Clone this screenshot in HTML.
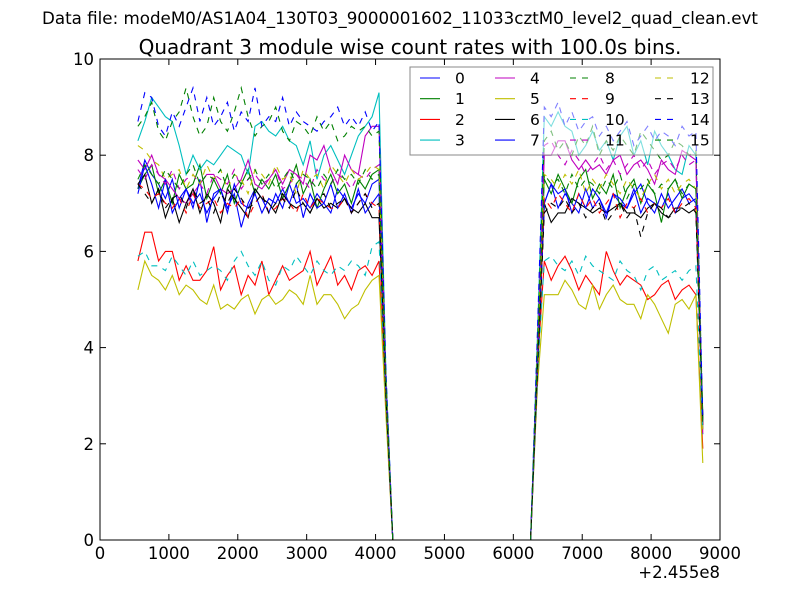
<!DOCTYPE html>
<html><head><meta charset="utf-8"><style>
body{margin:0;background:#fff;}
svg{display:block;font-family:"DejaVu Sans","Liberation Sans",sans-serif;}
</style></head><body>
<svg id="chart" width="800" height="600" viewBox="0 0 800 600" xmlns="http://www.w3.org/2000/svg">
<rect x="0" y="0" width="800" height="600" fill="#fff"/>
<text x="400" y="24" text-anchor="middle" font-size="16.7">Data file: modeM0/AS1A04_130T03_9000001602_11033cztM0_level2_quad_clean.evt</text>
<text x="410" y="54" text-anchor="middle" font-size="20">Quadrant 3 module wise count rates with 100.0s bins.</text>
<g id="series"></g>
<g id="axes"></g>
<g id="legend"></g>
</svg>
<script>
const times = [550,650,750,850,950,1050,1150,1250,1350,1450,1550,1650,1750,1850,1950,2050,2150,2250,2350,2450,2550,2650,2750,2850,2950,3050,3150,3250,3350,3450,3550,3650,3750,3850,3950,4050,4150,4250,6250,6350,6450,6550,6650,6750,6850,6950,7050,7150,7250,7350,7450,7550,7650,7750,7850,7950,8050,8150,8250,8350,8450,8550,8650,8750];
const s0 = [7.3,7.9,7.6,7.4,7.1,7.5,6.9,7.3,7.0,7.2,6.8,7.1,7.3,6.9,7.2,6.5,7.0,7.3,7.1,6.8,7.2,6.9,7.4,7.0,7.1,6.9,7.2,7.0,6.8,7.3,7.1,6.9,7.2,7.0,7.4,7.5,3.0,0,0,3.5,7.0,7.4,6.9,7.2,7.0,6.8,7.3,6.9,7.1,6.7,7.2,7.0,6.9,7.3,6.8,7.1,7.0,6.9,7.2,6.8,7.1,7.2,7.0,2.3];
const s1 = [7.3,7.6,7.8,7.2,7.5,7.0,7.6,7.3,7.4,7.8,7.1,7.5,7.2,7.6,7.0,7.4,7.7,7.2,7.5,7.3,7.6,7.1,7.4,7.8,7.2,7.5,6.9,7.3,7.6,7.2,7.4,7.0,7.5,7.3,7.6,7.7,3.2,0,0,3.8,7.5,7.2,7.6,7.3,7.0,7.5,7.7,7.1,7.4,7.2,7.6,6.9,7.3,7.5,7.0,7.4,7.2,6.6,7.3,7.5,7.1,7.4,7.3,2.5];
const s2 = [5.8,6.4,6.4,5.8,6.0,6.0,5.4,5.7,5.4,5.4,5.6,6.1,5.2,5.5,5.7,5.1,5.5,5.3,5.8,5.1,5.4,5.7,5.4,5.5,5.6,6.0,5.3,5.6,5.9,5.3,5.5,5.2,5.6,5.7,5.5,5.8,2.8,0,0,3.6,5.8,5.4,5.7,5.9,5.6,5.2,5.5,5.3,5.1,6.0,5.6,5.3,5.5,5.4,5.3,5.0,5.1,5.3,5.4,5.0,5.2,5.3,5.1,1.9];
const s3 = [8.3,8.7,9.2,9.0,8.8,8.7,8.2,7.6,8.0,7.7,7.9,7.8,8.0,8.2,8.1,8.0,7.6,8.6,8.7,8.5,8.4,8.6,8.3,8.2,7.8,8.3,7.5,8.0,8.2,7.9,7.6,8.0,8.4,8.6,8.8,9.3,3.5,0,0,4.2,8.8,8.6,8.9,8.6,8.5,8.0,8.2,8.5,8.1,8.3,7.9,8.4,8.6,8.0,8.3,7.8,8.5,8.2,8.0,7.7,7.6,8.2,8.0,2.4];
const s4 = [7.9,7.7,8.0,7.6,7.5,7.3,7.1,7.0,7.2,7.4,7.6,7.6,7.3,7.2,7.3,7.5,7.9,7.4,7.3,7.5,7.7,7.4,7.7,7.6,7.4,8.0,7.9,8.2,7.7,7.4,8.0,7.7,7.6,8.4,8.6,8.6,3.3,0,0,3.9,8.0,8.0,8.3,8.3,7.9,7.7,7.9,7.7,7.8,7.6,7.9,8.0,7.6,7.8,7.9,7.7,7.4,7.9,7.7,7.6,8.1,8.0,7.9,2.2];
const s5 = [5.2,5.8,5.5,5.4,5.2,5.5,5.1,5.3,5.2,5.0,4.9,5.3,4.8,4.9,4.8,5.0,5.1,4.7,5.0,5.1,4.9,5.0,5.2,5.1,4.9,5.5,4.9,5.1,5.1,4.9,4.6,4.8,4.9,5.2,5.4,5.5,2.6,0,0,3.2,5.1,5.1,5.1,5.4,5.2,4.9,4.8,5.3,4.8,5.1,5.3,5.0,4.9,4.9,4.6,5.1,4.9,4.6,4.3,4.9,5.0,4.8,5.1,1.6];
const s6 = [7.4,7.6,7.0,7.3,6.7,7.1,6.6,7.0,7.3,6.8,7.2,7.0,6.6,7.3,7.1,6.9,6.7,7.3,7.1,7.0,6.8,7.2,7.0,6.9,7.0,6.8,7.1,6.9,7.0,6.9,7.1,6.9,6.8,7.0,6.7,6.7,3.0,0,0,3.4,7.0,6.6,6.8,6.8,7.1,7.0,6.9,6.8,6.9,6.8,6.9,7.0,6.8,6.8,6.7,6.9,7.0,6.8,6.7,6.9,6.9,6.8,6.9,2.6];
const s7 = [7.2,7.8,7.4,6.9,7.5,6.8,7.1,7.3,6.9,7.5,6.6,7.2,7.3,6.8,7.4,7.0,6.9,7.2,6.8,7.1,7.0,7.3,7.0,7.4,6.7,7.2,6.9,7.0,7.4,6.9,7.2,6.8,7.3,6.8,7.0,7.2,3.1,0,0,3.6,7.0,7.4,7.2,7.3,6.8,7.2,6.9,7.3,7.1,6.8,7.2,7.1,6.9,7.2,7.4,7.0,6.8,7.2,6.9,7.1,7.3,7.0,7.1,2.4];
const s8 = [8.6,8.8,9.1,8.5,8.3,8.7,8.9,9.4,8.8,8.4,8.6,9.2,8.7,8.5,8.9,9.4,8.8,8.4,8.6,8.7,9.0,8.5,8.3,8.7,8.6,8.4,8.8,8.5,8.7,8.3,8.4,8.6,8.5,8.6,8.4,8.5,3.4,0,0,4.0,8.3,8.5,8.1,8.3,8.0,8.4,8.2,8.6,8.0,8.3,8.1,8.4,8.2,8.0,8.5,8.3,8.1,7.9,8.0,8.3,8.2,8.0,8.1,2.5];
const s9 = [7.4,7.3,7.1,7.2,7.0,6.9,7.1,6.8,7.2,6.9,7.0,7.1,6.8,7.0,6.9,7.1,6.7,7.0,7.2,6.8,6.9,7.1,7.0,6.8,7.2,6.9,7.1,7.0,6.9,6.9,7.1,6.8,7.0,7.2,7.0,6.9,3.0,0,0,3.5,7.1,6.9,7.2,7.0,6.8,7.2,6.9,7.1,6.8,7.0,7.2,6.7,7.0,6.9,7.1,6.8,7.0,6.9,7.1,6.8,7.0,7.1,6.9,2.4];
const s10 = [5.9,6.0,5.7,5.7,5.6,5.9,5.7,5.5,5.8,5.5,5.6,5.7,5.6,5.4,5.8,6.0,5.7,5.5,5.8,5.4,5.3,5.7,5.6,5.9,5.7,5.5,5.8,5.6,5.5,5.7,5.6,5.8,5.7,5.5,6.1,6.2,2.9,0,0,3.4,5.8,5.9,5.7,5.6,5.8,5.5,5.9,5.7,5.6,5.5,5.4,5.8,5.6,5.5,5.2,5.6,5.7,5.4,5.5,5.6,5.4,5.6,5.7,2.2];
const s11 = [7.7,7.5,7.8,7.6,7.4,7.7,7.3,7.5,7.6,7.4,7.2,7.6,7.5,7.4,7.7,7.3,7.5,7.6,7.4,7.5,7.7,7.3,7.4,7.6,7.5,7.3,7.7,7.5,7.4,7.6,7.5,7.3,7.6,7.5,7.7,7.8,3.2,0,0,3.8,8.2,8.3,8.0,7.8,8.1,7.9,7.6,7.8,8.0,7.7,7.9,7.6,7.8,8.0,7.7,7.9,7.6,7.8,7.9,7.7,8.0,7.8,7.9,2.4];
const s12 = [8.2,8.1,7.9,7.8,7.5,7.6,7.7,7.3,7.6,7.4,7.8,7.5,7.7,7.3,7.6,7.5,7.2,7.7,7.6,7.4,7.8,7.5,7.6,7.2,7.7,7.5,7.6,7.3,7.8,7.6,7.4,7.7,7.5,7.6,7.8,7.7,3.2,0,0,3.7,7.6,7.5,7.3,7.6,7.4,7.7,7.2,7.5,7.3,7.6,7.4,7.2,7.5,7.3,7.1,7.4,7.6,7.3,7.5,7.2,7.4,7.5,7.3,2.3];
const s13 = [7.4,7.2,7.0,7.3,6.9,7.1,7.2,6.9,7.3,7.0,7.1,6.8,7.2,7.0,7.3,7.1,6.9,7.0,7.2,6.8,7.0,7.1,6.9,7.3,7.0,6.8,7.1,7.2,6.9,7.0,7.1,6.8,7.0,7.2,6.9,7.0,3.0,0,0,3.5,6.8,7.0,6.9,7.1,6.8,7.0,6.7,6.9,7.0,6.6,6.8,7.0,6.7,6.9,6.3,6.8,7.0,6.9,6.7,6.8,6.9,7.0,6.8,2.4];
const s14 = [8.7,9.3,9.2,8.6,8.4,8.9,8.6,9.0,9.4,8.7,9.2,8.6,8.8,9.1,8.5,8.9,8.7,9.4,8.6,8.8,8.7,9.2,8.6,8.9,8.7,8.6,8.5,8.7,8.8,9.0,8.6,8.8,8.6,8.9,8.5,8.7,3.5,0,0,4.3,9.0,8.8,9.1,8.6,8.9,8.5,8.7,8.8,8.4,8.6,8.3,8.5,8.7,8.2,8.4,8.6,8.3,8.5,8.4,8.2,8.6,8.4,8.5,2.5];
const s15 = [7.5,7.8,7.6,7.4,7.7,7.5,7.3,7.6,7.8,7.4,7.6,7.5,7.7,7.3,7.6,7.4,7.5,7.7,7.4,7.6,7.3,7.5,7.7,7.4,7.6,7.5,7.3,7.6,7.4,7.7,7.5,7.6,7.4,7.7,7.5,7.6,3.2,0,0,3.8,7.6,7.4,7.5,7.2,7.6,7.3,7.5,7.4,7.2,7.5,7.3,7.6,7.1,7.4,7.3,7.5,7.2,7.4,7.3,7.5,7.2,7.4,7.3,2.4];
const seriesNames = ["0","1","2","3","4","5","6","7","8","9","10","11","12","13","14","15"];
const seriesData = [s0,s1,s2,s3,s4,s5,s6,s7,s8,s9,s10,s11,s12,s13,s14,s15];
const xTicks = [0,1000,2000,3000,4000,5000,6000,7000,8000,9000];
const yTicks = [0,2,4,6,8,10];

const colors = ["#0000ff","#008000","#ff0000","#00bfbf","#bf00bf","#bfbf00","#000000"];
const L=100,R=720,T=59,B=540;
function xs(v){return L+(v-0)/9000*(R-L);}
function ys(v){return B-(v-0)/10*(B-T);}
const NS="http://www.w3.org/2000/svg";
function mk(tag,attrs,parent){const e=document.createElementNS(NS,tag);for(const k in attrs)e.setAttribute(k,attrs[k]);parent.appendChild(e);return e;}

const sg=document.getElementById('series');
seriesData.forEach((d,i)=>{
  const pts=d.map((v,j)=>xs(times[j]).toFixed(1)+","+ys(v).toFixed(1)).join(" ");
  const attrs={points:pts,fill:"none",stroke:colors[i%7],"stroke-width":"1.1"};
  if(i>=8)attrs["stroke-dasharray"]="6,6";
  const p=mk('polyline',attrs,sg);
  
  
});

const ag=document.getElementById('axes');
const frame=mk('rect',{x:L,y:T,width:R-L,height:B-T,fill:"none",stroke:"#000","stroke-width":"1"},ag);


xTicks.forEach(t=>{
  const x=xs(t);
  mk('line',{x1:x,y1:B,x2:x,y2:B-6,stroke:"#000"},ag);
  mk('line',{x1:x,y1:T,x2:x,y2:T+6,stroke:"#000"},ag);
  const tx=mk('text',{x:x,y:B+19,"text-anchor":"middle","font-size":"16.5"},ag);
  tx.textContent=t;
  
  
});
yTicks.forEach(t=>{
  const y=ys(t);
  mk('line',{x1:L,y1:y,x2:L+6,y2:y,stroke:"#000"},ag);
  mk('line',{x1:R,y1:y,x2:R-6,y2:y,stroke:"#000"},ag);
  const tx=mk('text',{x:L-6,y:y+6,"text-anchor":"end","font-size":"16.5"},ag);
  tx.textContent=t;
  
  
});
const off=mk('text',{x:720,y:578,"text-anchor":"end","font-size":"16.5"},ag);
off.textContent="+2.455e8";



const lg=document.getElementById('legend');
const box=mk('rect',{x:410,y:67,width:303,height:88,fill:"#fff","fill-opacity":"0.5",stroke:"#888","stroke-width":"1"},lg);


const colX=[420,495,570,655];
seriesNames.forEach((n,i)=>{
  const c=Math.floor(i/4),r=i%4;
  const x=colX[c],y=78+r*20.7;
  const la={x1:x,y1:y,x2:x+20,y2:y,stroke:colors[i%7],"stroke-width":"1.1"};
  if(i>=8)la["stroke-dasharray"]="6,6";
  const ln=mk('line',la,lg);
  
  
  const tx=mk('text',{x:x+35,y:y+5.5,"font-size":"15.5"},lg);
  tx.textContent=n;
  
  
});
</script>
</body></html>
